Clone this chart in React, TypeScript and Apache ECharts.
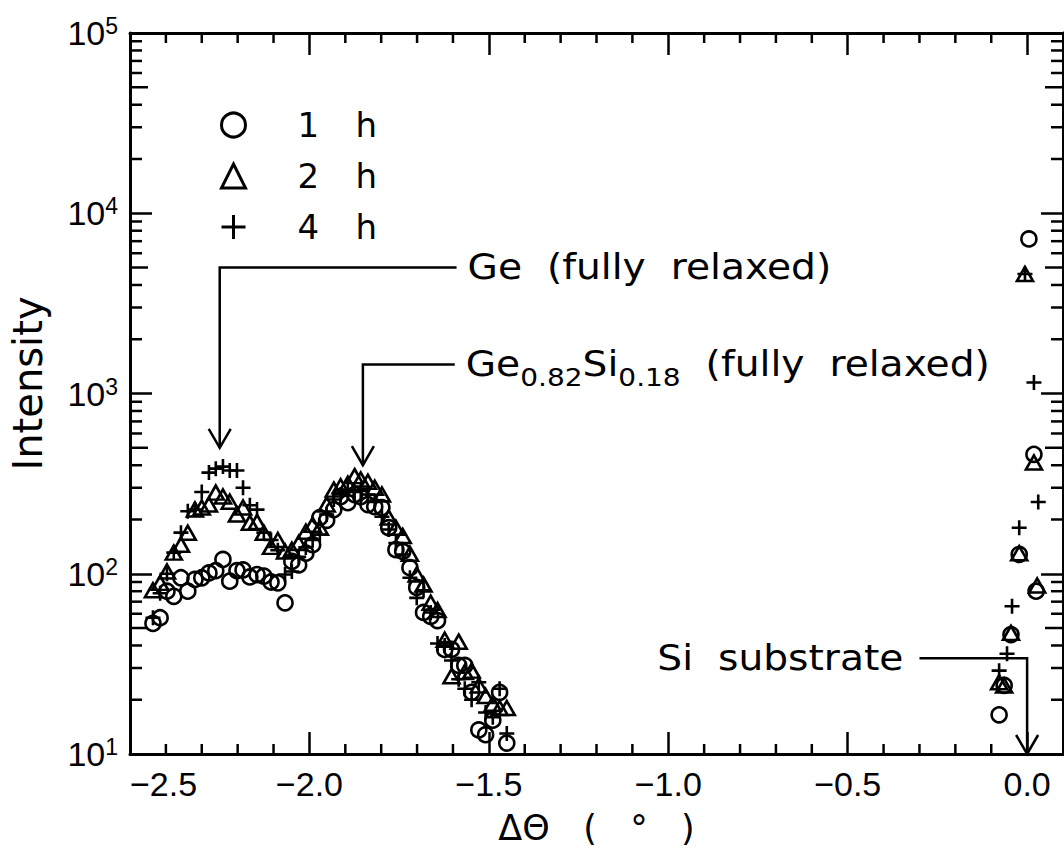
import { useEffect, useRef } from "react";
import * as echarts from "echarts";

// ΔΘ positions (deg) of the layer-peak scan, shared by the three anneals
const layerTheta = [
  -2.436, -2.416, -2.397, -2.378, -2.358, -2.339, -2.319, -2.3, -2.28, -2.261,
  -2.241, -2.222, -2.202, -2.185, -2.166, -2.146, -2.127, -2.107, -2.088, -2.068,
  -2.049, -2.03, -2.01, -1.991, -1.971, -1.952, -1.932, -1.913, -1.893, -1.874,
  -1.857, -1.837, -1.818, -1.798, -1.779, -1.759, -1.74, -1.72, -1.701, -1.682,
  -1.662, -1.643, -1.623, -1.604, -1.584, -1.567, -1.548, -1.528, -1.509, -1.489,
  -1.47, -1.45,
];

const layerCounts1h = [
  53, 57, 80, 75, 95, 80, 93, 95, 101, 104,
  120, 91, 104, 105, 96, 99, 97, 90, 89, 69,
  117, 112, 130, 145, 205, 198, 227, 268, 248, 275,
  268, 242, 236, 233, 180, 136, 133, 108, 84, 61,
  58, 55, 38, 38, 31, 31, 22, 13.6, 12.8, 15.4,
  22, 11.5,
];

const layerCounts2h = [
  81, 89, 103, 131, 145, 169, 227, 233, 242, 282,
  268, 251, 213, 233, 192, 194, 169, 141, 154, 133,
  136, 148, 171, 187, 180, 242, 293, 306, 316, 348,
  333, 324, 300, 275, 205, 180, 162, 129, 99, 87,
  69, 63, 43, 27, 42, 28.5, 29, 24, 21, 19,
  18, 18,
];

const layerCounts4h = [
  57, 78, 100, 131, 169, 222, 227, 284, 364, 383,
  393, 374, 374, 300, 240, 227, 169, 154, 135, 99,
  103, 124, 140, 154, 165, 213, 258, 275, 292, 284,
  288, 275, 250, 207, 176, 148, 128, 95, 73.5, 81,
  61, 41, 40, 33, 26, 23, 20, 25, 17, 16,
  23, 13,
];

// Si substrate reflection near ΔΘ = 0
const substrateTheta1h = [-0.078, -0.064, -0.045, -0.022, 0.005, 0.019, 0.025];
const substrateCounts1h = [16.5, 24, 46, 128, 7200, 460, 80];
const substrateTheta2h = [-0.078, -0.064, -0.045, -0.022, -0.006, 0.019, 0.028];
const substrateCounts2h = [25, 24, 47, 130, 4600, 414, 86];
const substrateTheta4h = [-0.078, -0.056, -0.042, -0.022, -0.006, 0.019, 0.031];
const substrateCounts4h = [29, 36, 66, 180, 4600, 1150, 250];

const seriesNames = ["1 h", "2 h", "4 h"];

// Axis ticks
const xMajorStep = 0.5;
const xMinorTicks = [
  -2.4, -2.3, -2.2, -2.1, -1.9, -1.8, -1.7, -1.6, -1.4, -1.3,
  -1.2, -1.1, -0.9, -0.8, -0.7, -0.6, -0.4, -0.3, -0.2, -0.1,
];
const decadeBases = [10, 100, 1000, 10000];
const minorMultipliers = [2, 3, 4, 5, 6, 7, 8, 9];

const INK = "#000";
const WORD_FONT = "DejaVu Sans";
const NUM_FONT = "Liberation Sans";

const pairs = (xs: number[], ys: number[]) => xs.map((x, i) => [x, ys[i]]);

const plusPath = "path://M0 6 L12 6 M6 0 L6 12";

export default function App() {
  const ref = useRef<HTMLDivElement>(null);

  useEffect(() => {
    if (!ref.current) return;
    const chart = echarts.init(ref.current, undefined, { renderer: "svg" });

    const tickMarks: number[][] = [
      ...decadeBases.flatMap((b) =>
        minorMultipliers.map((m) => [-2.5, b * m, 0, m === 5 ? 18 : 12])
      ),
      ...xMinorTicks.map((v) => [v, 10, 1, 10]),
    ];

    const markerStyle = {
      color: "rgba(0,0,0,0)",
      borderColor: INK,
      borderWidth: 2.6,
      opacity: 1,
    };

    const axisLine = { show: true, onZero: false, lineStyle: { color: INK, width: 3 } };
    const majorTick = { show: true, inside: true, length: 22, lineStyle: { color: INK, width: 2.5 } };

    const option: any = {
      animation: false,
      textStyle: { fontFamily: WORD_FONT, color: INK },
      grid: { left: 130, right: 1, top: 33, bottom: 100, outerBoundsMode: "none" },
      legend: {
        orient: "vertical",
        left: 220,
        top: 108,
        padding: 0,
        itemWidth: 24,
        itemHeight: 24,
        itemGap: 17,
        selectedMode: false,
        data: seriesNames,
        itemStyle: { borderWidth: 3, opacity: 1 },
        formatter: (name: string) => {
          const [n, u] = name.split(" ");
          return `{n|${n}}{u|${u}}`;
        },
        textStyle: {
          padding: [0, 0, 0, 47],
          rich: {
            n: { width: 58, fontSize: 34, fontFamily: WORD_FONT, color: INK },
            u: { fontSize: 34, fontFamily: WORD_FONT, color: INK },
          },
        },
      },
      xAxis: [
        {
          type: "value",
          min: -2.5,
          max: 0.1,
          interval: xMajorStep,
          position: "bottom",
          axisLine,
          axisTick: majorTick,
          splitLine: { show: false },
          axisLabel: {
            margin: 13,
            fontSize: 34,
            fontFamily: NUM_FONT,
            color: INK,
            alignMinLabel: "left",
            formatter: (v: number) => {
              const k = Math.round(v / xMajorStep) * xMajorStep;
              if (Math.abs(v - k) > 1e-9) return "";
              return (v < -1e-9 ? "\u2212" : "") + Math.abs(v).toFixed(1);
            },
          },
          name: "ΔΘ   (   °   )",
          nameLocation: "middle",
          nameGap: 56,
          nameMoveOverlap: false,
          nameTextStyle: { fontSize: 35, fontFamily: WORD_FONT, color: INK },
        },
        {
          type: "value",
          min: -2.5,
          max: 0.1,
          interval: xMajorStep,
          position: "top",
          axisLine,
          axisTick: majorTick,
          splitLine: { show: false },
          axisLabel: { show: false },
        },
      ],
      yAxis: [
        {
          type: "log",
          logBase: 10,
          min: 10,
          max: 100000,
          axisLine,
          axisTick: majorTick,
          splitLine: { show: false },
          minorTick: { show: false },
          axisLabel: {
            margin: 12,
            formatter: (v: number) => `{b|10}{e|${Math.round(Math.log10(v))}}`,
            rich: {
              b: { fontFamily: NUM_FONT, fontSize: 34, color: INK },
              e: { fontFamily: NUM_FONT, fontSize: 23, color: INK, padding: [0, 0, 14, 0] },
            },
          },
          name: "Intensity",
          nameLocation: "middle",
          nameRotate: 90,
          nameGap: 82,
          nameMoveOverlap: false,
          nameTextStyle: { fontSize: 40, fontFamily: WORD_FONT, color: INK, padding: [0, 0, 0, 20] },
        },
        {
          type: "log",
          logBase: 10,
          min: 10,
          max: 100000,
          position: "right",
          axisLine,
          axisTick: majorTick,
          splitLine: { show: false },
          axisLabel: { show: false },
        },
      ],
      series: [
        {
          name: seriesNames[0],
          type: "scatter",
          symbol: "circle",
          symbolSize: 15,
          itemStyle: markerStyle,
          data: [...pairs(layerTheta, layerCounts1h), ...pairs(substrateTheta1h, substrateCounts1h)],
          z: 3,
        },
        {
          name: seriesNames[1],
          type: "scatter",
          symbol: "triangle",
          symbolSize: [16, 14],
          itemStyle: markerStyle,
          data: [...pairs(layerTheta, layerCounts2h), ...pairs(substrateTheta2h, substrateCounts2h)],
          z: 3,
        },
        {
          name: seriesNames[2],
          type: "scatter",
          symbol: plusPath,
          symbolSize: 15,
          itemStyle: markerStyle,
          data: [...pairs(layerTheta, layerCounts4h), ...pairs(substrateTheta4h, substrateCounts4h)],
          z: 3,
        },
        {
          type: "custom",
          silent: true,
          clip: false,
          z: 4,
          encode: { x: 0, y: 1 },
          data: tickMarks,
          renderItem: (params: any, api: any) => {
            const cs = params.coordSys;
            const kind = api.value(2);
            const len = api.value(3);
            const p = api.coord([api.value(0), api.value(1)]);
            const style = { stroke: INK, lineWidth: 2.5 };
            if (kind === 0) {
              return {
                type: "group",
                children: [
                  { type: "line", shape: { x1: cs.x, y1: p[1], x2: cs.x + len, y2: p[1] }, style },
                  { type: "line", shape: { x1: cs.x + cs.width, y1: p[1], x2: cs.x + cs.width - len, y2: p[1] }, style },
                ],
              };
            }
            return {
              type: "group",
              children: [
                { type: "line", shape: { x1: p[0], y1: cs.y + cs.height, x2: p[0], y2: cs.y + cs.height - len }, style },
                { type: "line", shape: { x1: p[0], y1: cs.y, x2: p[0], y2: cs.y + len }, style },
              ],
            };
          },
        },
      ],
    };

    chart.setOption(option);

    // Callout arrows, placed in data coordinates
    const toPx = (x: number, y: number) =>
      chart.convertToPixel({ xAxisIndex: 0, yAxisIndex: 0 }, [x, y]) as number[];

    const lineStyle = { stroke: INK, lineWidth: 2.5, fill: null };
    const textFont = { fontFamily: WORD_FONT, fontSize: 35, fill: INK };
    // the lettering is a wide plotter face, so callout text is stretched horizontally
    const textStretch = 1.12;

    const callouts = [
      { arrowX: -2.25, tipY: 500, elbowY: 5000, tailX: -1.59, labelSide: "right",
        text: "Ge  (fully  relaxed)", rich: null as any },
      { arrowX: -1.851, tipY: 400, elbowY: 1450, tailX: -1.595, labelSide: "right",
        text: "{n|Ge}{s|0.82}{n|Si}{s|0.18}{n|  (fully  relaxed)}",
        rich: {
          n: { fontFamily: WORD_FONT, fontSize: 35, fill: INK },
          s: { fontFamily: WORD_FONT, fontSize: 25, fill: INK, padding: [26, 0, 0, 0] },
        } },
      { arrowX: 0.0, tipY: 10, elbowY: 34, tailX: -0.3, labelSide: "left",
        text: "Si  substrate", rich: null as any },
    ];

    const graphic: any[] = [];
    callouts.forEach((c) => {
      const tail = toPx(c.tailX, c.elbowY);
      const elbow = toPx(c.arrowX, c.elbowY);
      const tip = toPx(c.arrowX, c.tipY);
      graphic.push({
        type: "polyline",
        silent: true,
        shape: { points: [tail, elbow, tip] },
        style: lineStyle,
      });
      graphic.push({
        type: "polyline",
        silent: true,
        shape: { points: [[tip[0] - 11, tip[1] - 19], tip, [tip[0] + 11, tip[1] - 19]] },
        style: lineStyle,
      });
      const right = c.labelSide === "right";
      graphic.push({
        type: "text",
        silent: true,
        x: right ? tail[0] + 11 : tail[0] - 16,
        y: tail[1],
        scaleX: textStretch,
        style: {
          text: c.text,
          ...textFont,
          align: right ? "left" : "right",
          verticalAlign: "middle",
          ...(c.rich ? { rich: c.rich } : {}),
        },
      });
    });

    chart.setOption({ graphic });

    return () => chart.dispose();
  }, []);

  return (
    <div
      ref={ref}
      style={{ position: "absolute", left: 0, top: 0, width: 1064, height: 854, background: "#fff" }}
    />
  );
}
